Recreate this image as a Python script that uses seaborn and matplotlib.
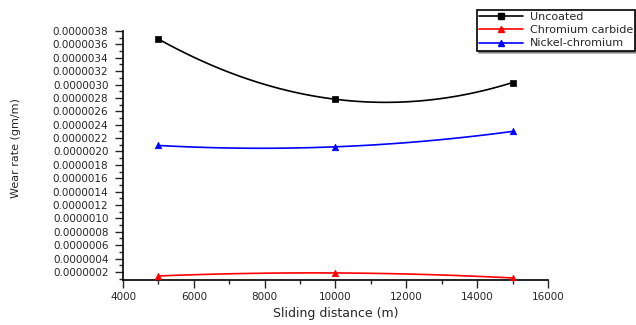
import matplotlib
matplotlib.use("Agg")
import matplotlib.pyplot as plt
from matplotlib.lines import Line2D
from matplotlib.ticker import MultipleLocator, FormatStrFormatter
import numpy as np
import pandas as pd
import seaborn as sns

# data
distance = [5000, 10000, 15000]
uncoated = [0.00000368, 0.00000278, 0.00000303]
chromium_carbide = [0.00000014, 0.000000185, 0.00000011]
nickel_chromium = [0.00000209, 0.00000207, 0.00000230]
series_names = ["Uncoated", "Chromium carbide", "Nickel-chromium"]
series_colors = ["black", "red", "blue"]
series_markers = ["s", "^", "^"]

df = pd.DataFrame({
    "distance": distance * 3,
    "wear": uncoated + chromium_carbide + nickel_chromium,
    "series": sum([[n] * len(distance) for n in series_names], []),
})

sns.set_style("ticks")
plt.rcParams["font.family"] = ["DejaVu Sans"]

fig = plt.figure(figsize=(6.36, 3.25), dpi=100)
ax = fig.add_axes([0.1934, 0.1385, 0.6682, 0.7661])

# smooth (spline-like) connecting line through each series, as in the original
for name, color in zip(series_names, series_colors):
    sub = df[df.series == name]
    coef = np.polyfit(sub.distance, sub.wear, 2)
    xs = np.linspace(sub.distance.min(), sub.distance.max(), 100)
    smooth = pd.DataFrame({"distance": xs, "wear": np.polyval(coef, xs)})
    sns.lineplot(data=smooth, x="distance", y="wear", color=color, lw=1.2, ax=ax)

for name, color, marker in zip(series_names, series_colors, series_markers):
    sub = df[df.series == name]
    sns.scatterplot(data=sub, x="distance", y="wear", color=color, marker=marker,
                    s=22, edgecolor=color, linewidth=0.5, zorder=5, ax=ax)

ax.set_xlim(4000, 16000)
ax.set_ylim(0.00000008, 0.0000038)
ax.xaxis.set_major_locator(MultipleLocator(2000))
ax.xaxis.set_minor_locator(MultipleLocator(1000))
ax.yaxis.set_major_locator(MultipleLocator(0.0000002))
ax.yaxis.set_minor_locator(MultipleLocator(0.0000001))
ax.yaxis.set_major_formatter(FormatStrFormatter("%.7f"))
ax.tick_params(which="major", length=5.5, width=1, labelsize=7.5, direction="out", pad=3)
ax.tick_params(which="minor", length=3, width=1, direction="out")
ax.tick_params(axis="y", which="major", pad=5)
sns.despine(ax=ax)
for s in ["left", "bottom"]:
    ax.spines[s].set_linewidth(1.2)
    ax.spines[s].set_color("black")

ax.set_xlabel("Sliding distance (m)", fontsize=9, labelpad=4)
ax.set_ylabel("Wear rate (gm/m)", fontsize=8)
ax.yaxis.set_label_coords(-0.24, 0.53)

handles = [Line2D([], [], color=c, marker=m, markersize=4, lw=1.2)
           for c, m in zip(series_colors, series_markers)]
leg = fig.legend(handles, series_names, loc="upper left",
                 bbox_to_anchor=(471 / 636, 1 - 4 / 325), fontsize=8,
                 frameon=True, fancybox=False, shadow=True, handlelength=4,
                 borderpad=0.2, labelspacing=0.3, handletextpad=0.6)
leg.get_frame().set_edgecolor("black")
leg.get_frame().set_linewidth(1.2)

fig.savefig("out.png", dpi=100)
